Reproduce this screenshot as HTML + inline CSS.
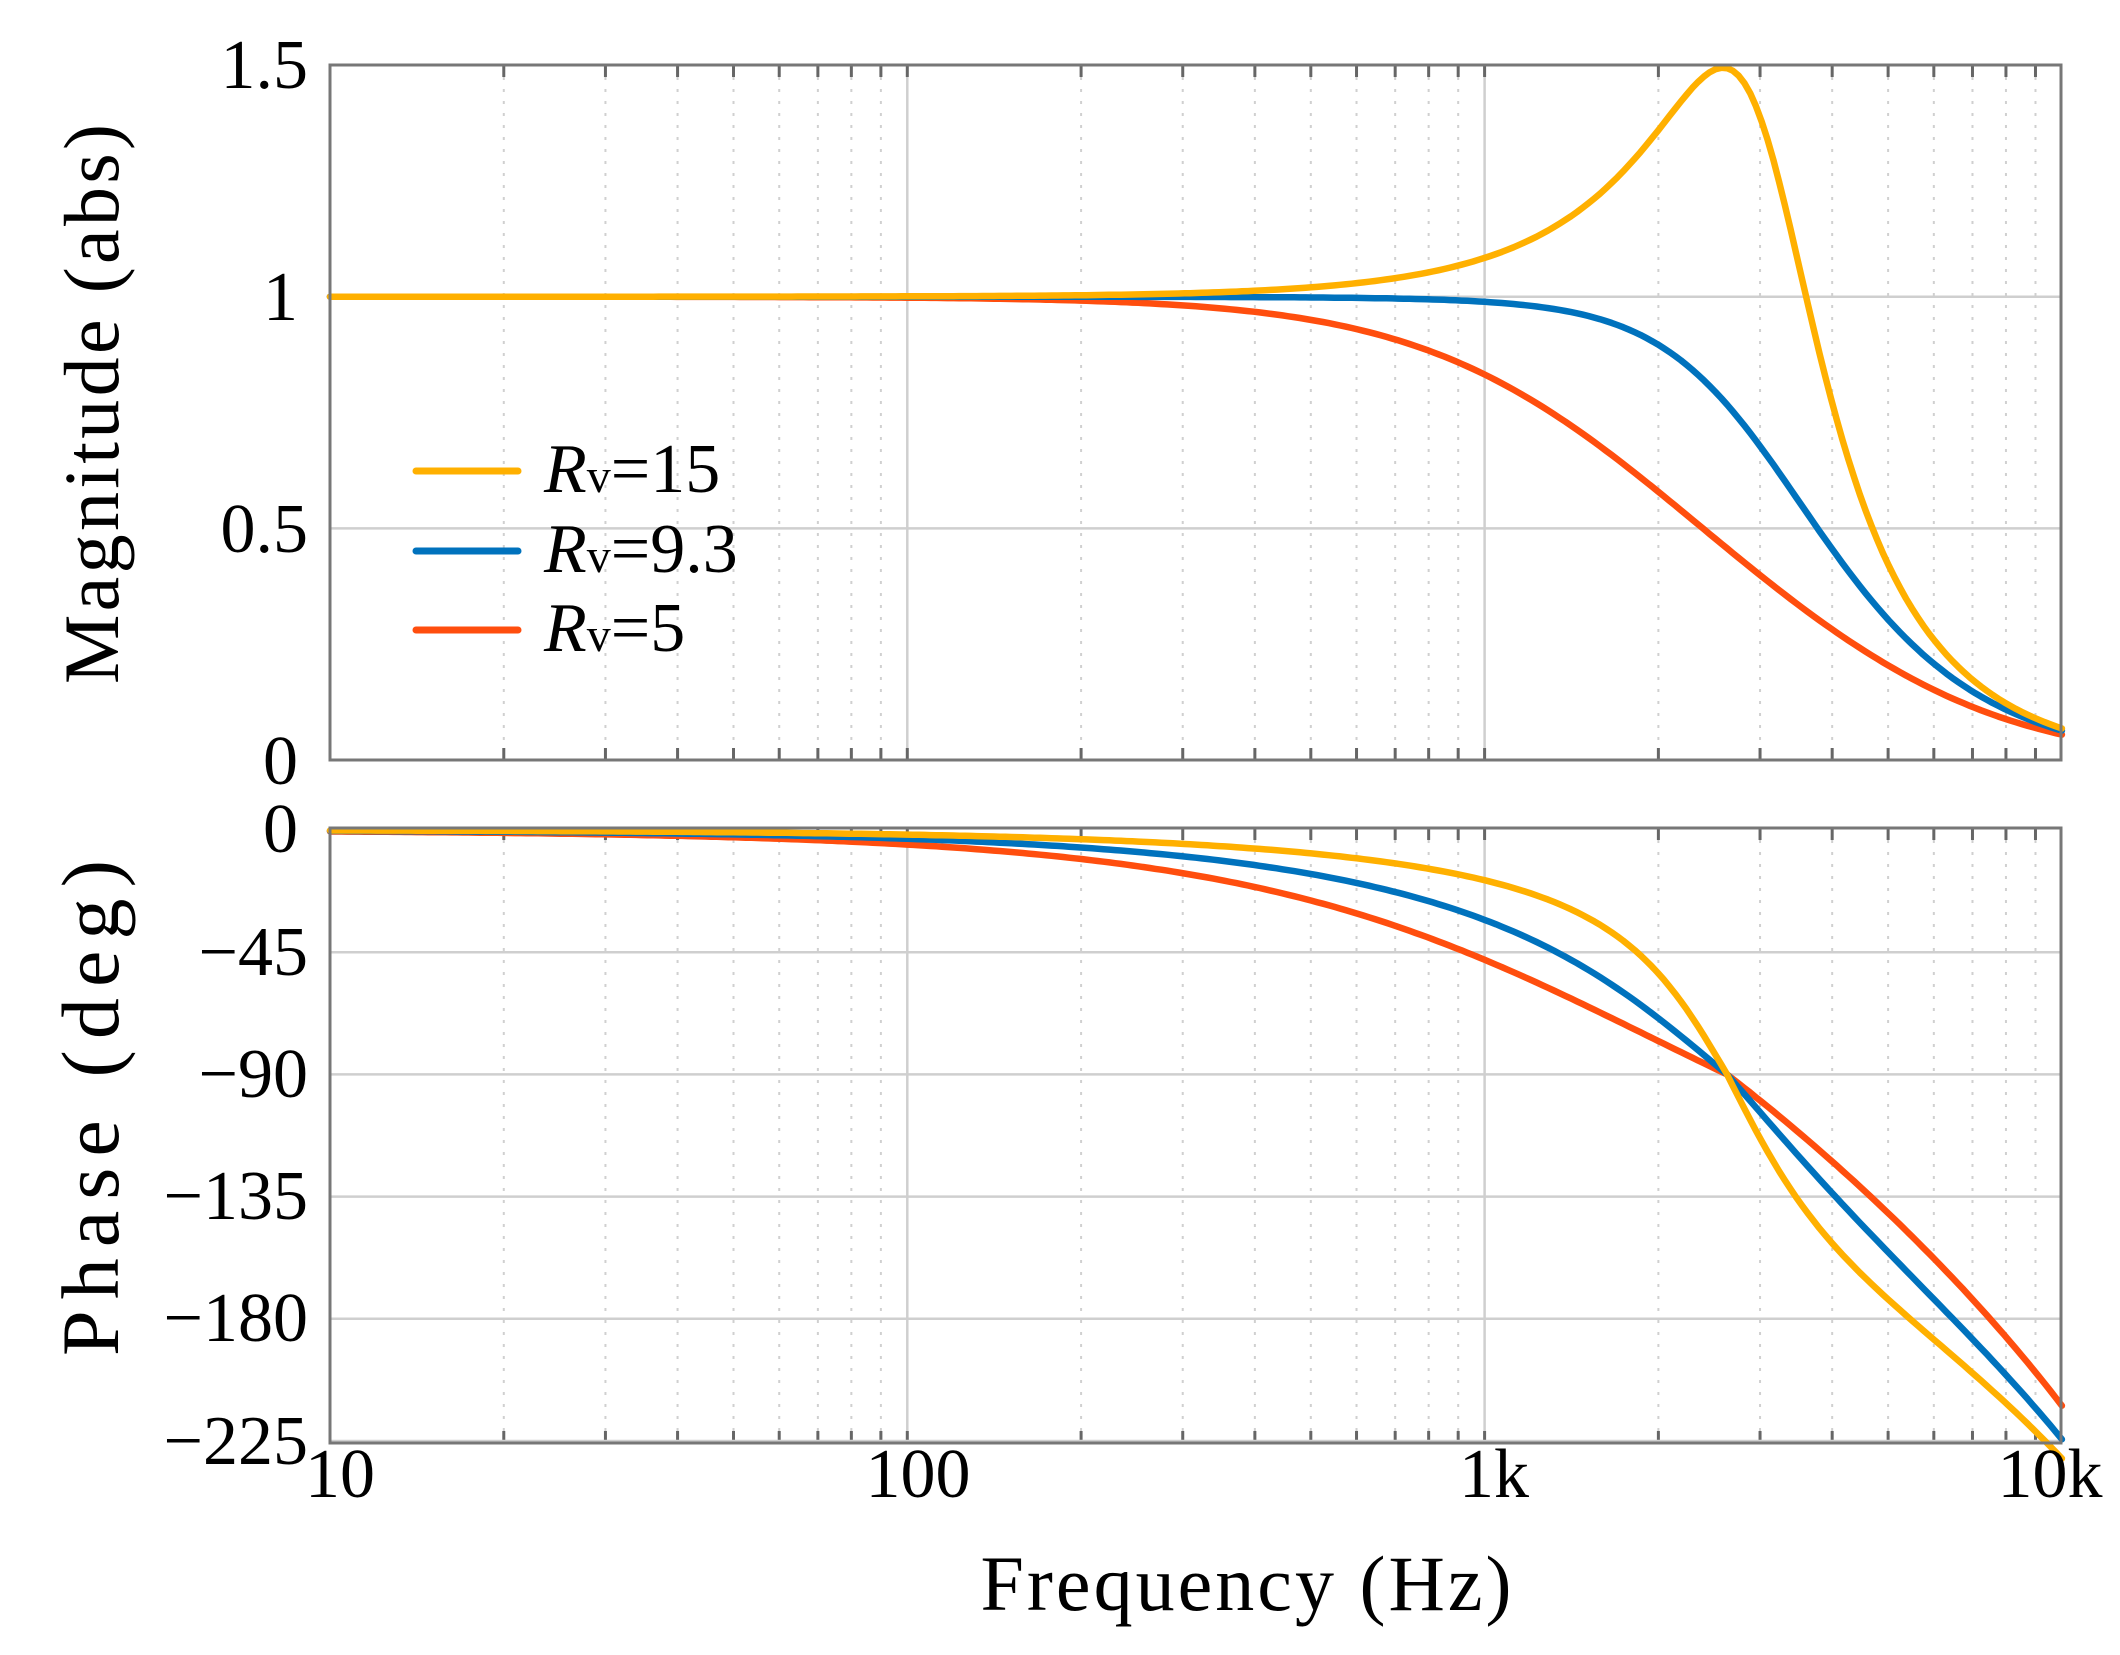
<!DOCTYPE html>
<html><head><meta charset="utf-8"><style>
html,body{margin:0;padding:0;background:#fff;}
svg{display:block;}
text{font-family:"Liberation Serif",serif;fill:#000;}
</style></head><body>
<svg id="s" width="2120" height="1655" viewBox="0 0 2120 1655" xmlns="http://www.w3.org/2000/svg">
<g id="grid"></g>
<g id="curves" fill="none" stroke-width="6.5" stroke-linejoin="round" stroke-linecap="round"></g>
<g id="frame" fill="none" stroke="#777" stroke-width="3">
<rect x="330" y="65" width="1731" height="695"/>
<rect x="330" y="828" width="1731" height="615"/>
</g>
<g font-size="70" text-anchor="end">
<text x="308" y="88">1.5</text>
<text x="298" y="320">1</text>
<text x="308" y="552">0.5</text>
<text x="298" y="784">0</text>
<text x="298" y="852">0</text>
<text x="308" y="975">−45</text>
<text x="308" y="1097">−90</text>
<text x="308" y="1219">−135</text>
<text x="308" y="1341">−180</text>
<text x="308" y="1464">−225</text>
</g>
<g font-size="70" text-anchor="middle">
<text x="340" y="1497">10</text>
<text x="918" y="1497">100</text>
<text x="1494" y="1497">1k</text>
<text x="2050" y="1497">10k</text>
<text x="1246" y="1610" font-size="78" textLength="531" lengthAdjust="spacing">Frequency  (Hz)</text>
<text transform="translate(118,404) rotate(-90)" font-size="78" textLength="560" lengthAdjust="spacing">Magnitude  (abs)</text>
<text transform="translate(118,1108) rotate(-90)" font-size="82" textLength="496" lengthAdjust="spacing">Phase    (deg)</text>
</g>
<g stroke-width="7" stroke-linecap="round">
<line x1="416" y1="471" x2="518" y2="471" stroke="#FFB000"/>
<line x1="416" y1="551" x2="518" y2="551" stroke="#0072BD"/>
<line x1="416" y1="630" x2="518" y2="630" stroke="#FF4E0E"/>
</g>
<g font-size="70">
<text x="544" y="492"><tspan font-style="italic">R</tspan><tspan font-size="48">v</tspan>=15</text>
<text x="544" y="572"><tspan font-style="italic">R</tspan><tspan font-size="48">v</tspan>=9.3</text>
<text x="544" y="651"><tspan font-style="italic">R</tspan><tspan font-size="48">v</tspan>=5</text>
</g>
</svg>
<script>
(function(){
var NS="http://www.w3.org/2000/svg";
function X(f){return 330+577.3*Math.log10(f/10);}
function YM(v){return 760-463.3*v;}
function YP(p){return 830-122.2*(p/45);}
var g=document.getElementById('grid');
function ln(x1,y1,x2,y2,st,w,da){var l=document.createElementNS(NS,'line');l.setAttribute('x1',x1);l.setAttribute('y1',y1);l.setAttribute('x2',x2);l.setAttribute('y2',y2);l.setAttribute('stroke',st);l.setAttribute('stroke-width',w);if(da)l.setAttribute('stroke-dasharray',da);g.appendChild(l);}
var boxes=[[65,760],[828,1443]];
for(var d=10;d<10000;d*=10){for(var k=1;k<10;k++){var x=X(d*k);
 boxes.forEach(function(b){
  if(k==1){ if(d>10) ln(x,b[0],x,b[1],'#cfcfcf',2.5);}
  else ln(x,b[0],x,b[1],'#d0d0d0',2,'3,9');
  ln(x,b[0],x,b[0]+12,'#666',3); ln(x,b[1],x,b[1]-12,'#666',3);
 });}}
[0.5,1].forEach(function(v){ln(330,YM(v),2061,YM(v),'#cfcfcf',2.5);});
[-45,-90,-135,-180,-225].forEach(function(p){ln(330,YP(p),2061,YP(p),'#cfcfcf',2.5);});
var series=[['#FF4E0E',1.2,1.2],['#0072BD',0.707,0.707],['#FFB000',0.345,0.356]];
var cv=document.getElementById('curves');
var f0m=3000,f0p=2630;
series.forEach(function(s){
 var z=s[1],zp=s[2],dm='',dp='';
 for(var i=0;i<=300;i++){
  var f=10*Math.pow(10,3*i/300);
  var r=f/f0m;
  var mag=1/Math.sqrt(Math.pow(1-r*r,2)+Math.pow(2*z*r,2));
  mag/=Math.sqrt(1+Math.pow(f/10000,2));
  var rp=f/f0p;
  var ph=-Math.atan2(2*zp*rp,1-rp*rp)*180/Math.PI;
  if(rp>1) ph-=23.6*(rp-1)*(zp<0.5?0.95:1.0);
  if(rp<1) ph-=4*rp*(1-rp);
  var x=X(f).toFixed(1);
  dm+=(i?'L':'M')+x+','+YM(mag).toFixed(1);
  dp+=(i?'L':'M')+x+','+YP(ph).toFixed(1);
 }
 [dm,dp].forEach(function(d){var p=document.createElementNS(NS,'path');p.setAttribute('d',d);p.setAttribute('stroke',s[0]);cv.appendChild(p);});
});
})();
</script>
</body></html>
